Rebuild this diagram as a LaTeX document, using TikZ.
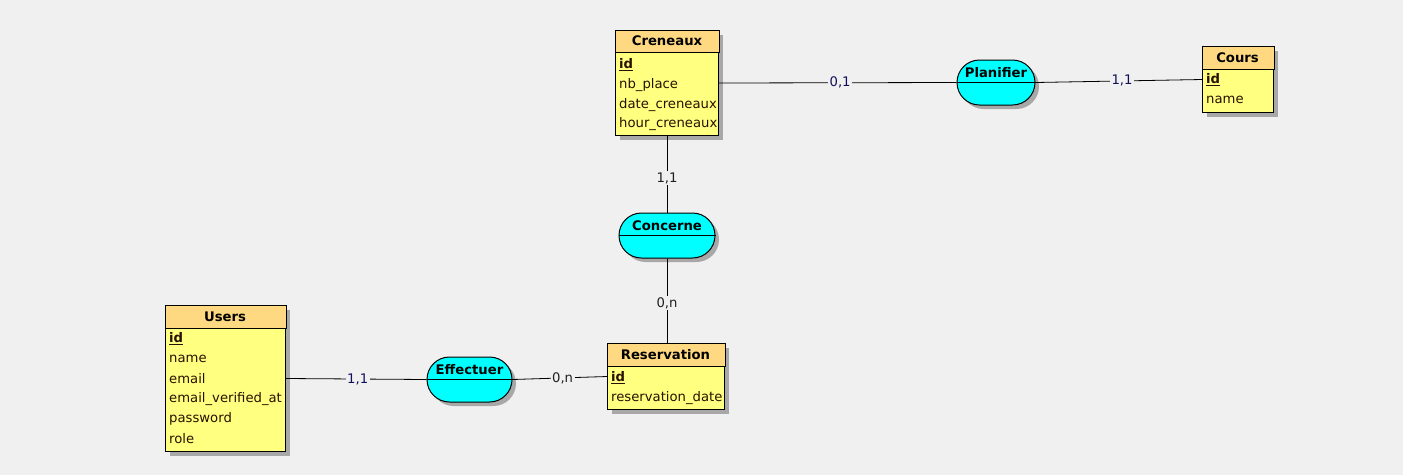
\documentclass[tikz,border=0pt]{standalone}
\usepackage{fontspec}
\setmainfont{DejaVu Sans}
\usetikzlibrary{shadows,shapes.misc}
\definecolor{bgc}{HTML}{F0F0F0}
\definecolor{hdrc}{HTML}{FFD982}
\definecolor{bodyc}{HTML}{FFFF80}
\definecolor{assocc}{HTML}{00FFFF}
\definecolor{cardc}{HTML}{10105A}
\definecolor{cardd}{HTML}{202020}
\definecolor{fieldc}{HTML}{2A1000}
\definecolor{shadc}{HTML}{A8A8A8}
\begin{document}
\begin{tikzpicture}[x=1pt,y=-1pt,
  font=\fontsize{13.2}{15}\selectfont,
  shad/.style={drop shadow={shadow xshift=4pt,shadow yshift=-4pt,fill=shadc,opacity=1}},
  entbox/.style={draw=black,fill=bodyc,line width=1pt,anchor=north west,inner sep=0pt,shad},
  hdrbar/.style={fill=hdrc,draw=black,line width=1pt},
  hdrtext/.style={font=\fontsize{13.2}{15}\selectfont\bfseries,text=black,inner sep=0pt},
  fieldtext/.style={anchor=west,inner sep=0pt,text=fieldc},
  assocbox/.style={draw=black,fill=assocc,line width=1pt,rounded rectangle,inner sep=0pt,shad},
  assoctext/.style={font=\fontsize{13.2}{15}\selectfont\bfseries,text=black,inner sep=0pt},
  link/.style={draw=black,line width=0.8pt},
  card/.style={fill=bgc,inner sep=1.5pt,text=cardc},
  cardk/.style={fill=bgc,inner sep=1.5pt,text=cardd}]
\fill[bgc] (0,0) rectangle (1403,475);
\useasboundingbox (0,0) rectangle (1403,475);

% ---------- Creneaux
\node[entbox,minimum width=103pt,minimum height=105pt] (cre) at (615,30) {};
\draw[hdrbar] (cre.north west) rectangle ([yshift=-22pt]cre.north east);
\node[hdrtext] (creT) at (667,41) {Creneaux};
\node[fieldtext] (cre1) at (619,65) {\underline{\textbf{id}}};
\node[fieldtext] (cre2) at (619,85) {nb\_place};
\node[fieldtext] (cre3) at (619,105) {date\_creneaux};
\node[fieldtext] (cre4) at (619,124.5) {hour\_creneaux};

% ---------- Cours
\node[entbox,minimum width=71pt,minimum height=66pt] (cou) at (1202,46) {};
\draw[hdrbar] (cou.north west) rectangle ([yshift=-23pt]cou.north east);
\node[hdrtext] (couT) at (1237.5,57.5) {Cours};
\node[fieldtext] (cou1) at (1206,80) {\underline{\textbf{id}}};
\node[fieldtext] (cou2) at (1206,100) {name};

% ---------- Users
\node[entbox,minimum width=120pt,minimum height=146pt] (usr) at (165,305) {};
\draw[hdrbar] (usr.north west) rectangle ([yshift=-23pt]usr.north east);
\node[hdrtext] (usrT) at (225,316.5) {Users};
\node[fieldtext] (usr1) at (169,339) {\underline{\textbf{id}}};
\node[fieldtext] (usr2) at (169,359) {name};
\node[fieldtext] (usr3) at (169,379) {email};
\node[fieldtext] (usr4) at (169,399) {email\_verified\_at};
\node[fieldtext] (usr5) at (169,419) {password};
\node[fieldtext] (usr6) at (169,439) {role};

% ---------- Reservation
\node[entbox,minimum width=117pt,minimum height=66pt] (res) at (607,343) {};
\draw[hdrbar] (res.north west) rectangle ([yshift=-23pt]res.north east);
\node[hdrtext] (resT) at (665.5,354.5) {Reservation};
\node[fieldtext] (res1) at (611,378) {\underline{\textbf{id}}};
\node[fieldtext] (res2) at (611,398) {reservation\_date};

% ---------- Associations
\node[assocbox,minimum width=78pt,minimum height=45pt] (pla) at (996,82.5) {};
\draw[line width=1pt] (pla.west) -- (pla.east);
\node[assoctext] (plaT) at (996,73) {Planifier};

\node[assocbox,minimum width=96pt,minimum height=45pt] (con) at (667,235.5) {};
\draw[line width=1pt] (con.west) -- (con.east);
\node[assoctext] (conT) at (667,226) {Concerne};

\node[assocbox,minimum width=85pt,minimum height=45pt] (eff) at (469.5,379.5) {};
\draw[line width=1pt] (eff.west) -- (eff.east);
\node[assoctext] (effT) at (469.5,370) {Effectuer};

% ---------- Links
\draw[link] (cre.east) -- node[card,pos=0.51] (l1) {0,1} (pla.west);
\draw[link] (pla.east) -- node[card,pos=0.52] (l2) {1,1} (cou.west);
\draw[link] (cre.south -| con.north) -- node[cardk,pos=0.55] (l3) {1,1} (con.north);
\draw[link] (con.south) -- node[cardk,pos=0.53] (l4) {0,n} (res.north -| con.south);
\draw[link] (usr.east) -- node[card,pos=0.51] (l5) {1,1} (eff.west);
\draw[link] (eff.east) -- node[cardk,pos=0.53] (l6) {0,n} (res.west);
\end{tikzpicture}
\end{document}
